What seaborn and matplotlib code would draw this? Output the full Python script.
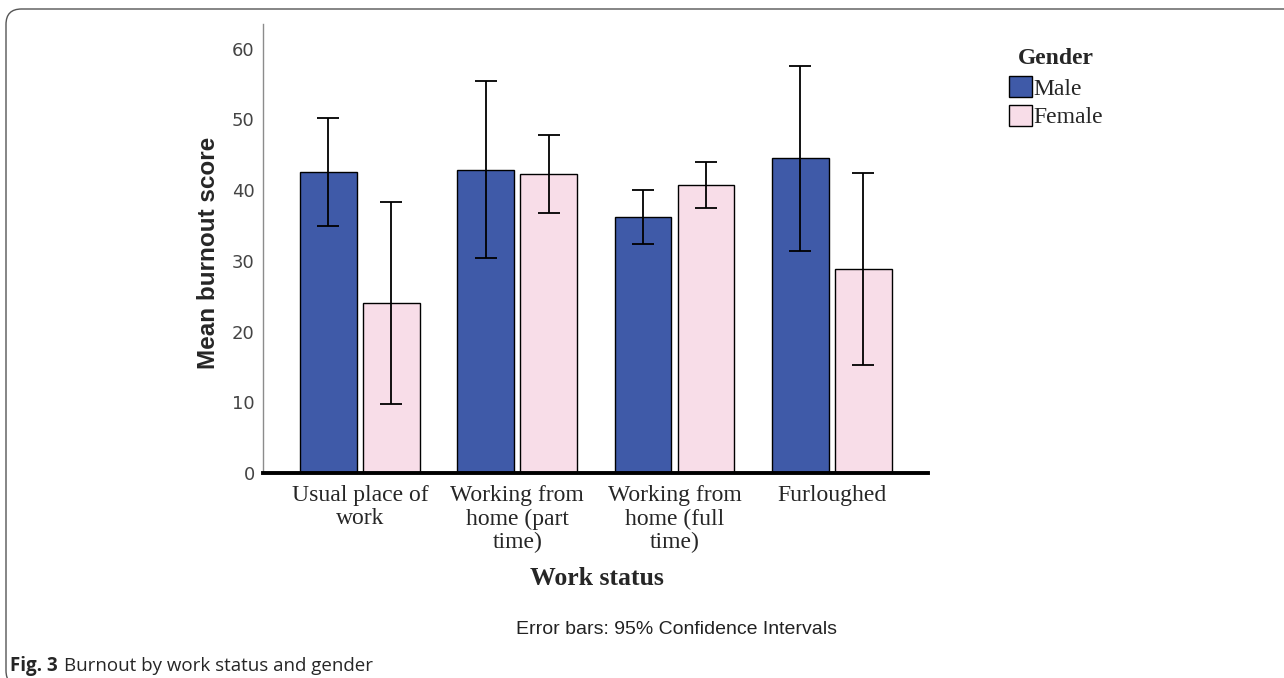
import matplotlib
matplotlib.use('Agg')
import matplotlib.pyplot as plt
from matplotlib.patches import Patch, FancyBboxPatch
import pandas as pd
import seaborn as sns

# values
statuses = ['Usual place of\nwork', 'Working from\nhome (part\ntime)',
            'Working from\nhome (full\ntime)', 'Furloughed']
genders = ['Male', 'Female']
male_mean = [42.6, 42.9, 36.2, 44.6]
male_lo = [34.9, 30.4, 32.4, 31.4]
male_hi = [50.2, 55.4, 40.0, 57.6]
female_mean = [24.0, 42.3, 40.7, 28.9]
female_lo = [9.8, 36.8, 37.5, 15.3]
female_hi = [38.3, 47.8, 44.0, 42.4]
yticks = [0, 10, 20, 30, 40, 50, 60]

colors = {'Male': '#3f5aa8', 'Female': '#f8dde8'}

df = pd.DataFrame({
    'status': statuses * 2,
    'gender': ['Male'] * 4 + ['Female'] * 4,
    'mean': male_mean + female_mean,
    'lo': male_lo + female_lo,
    'hi': male_hi + female_hi,
})

sns.set_style('white')
plt.rcParams['font.family'] = ['DejaVu Sans']

fig = plt.figure(figsize=(12.84, 6.78), dpi=100)
ax = fig.add_axes([0.2048, 0.3024, 0.5179, 0.6622])

sns.barplot(data=df, x='status', y='mean', hue='gender', hue_order=genders,
            order=statuses, palette=colors, saturation=1, width=0.8, gap=0.1,
            errorbar=None, edgecolor='black', linewidth=1.0,
            legend=False, ax=ax)

# confidence intervals at the bar centres
bars = ax.patches
for j, g in enumerate(genders):
    sub = df[df['gender'] == g].reset_index(drop=True)
    for i in range(len(statuses)):
        p = bars[j * len(statuses) + i]
        xc = p.get_x() + p.get_width() / 2
        m = sub.loc[i, 'mean']
        ax.errorbar(xc, m, yerr=[[m - sub.loc[i, 'lo']], [sub.loc[i, 'hi'] - m]],
                    fmt='none', ecolor='black', elinewidth=1.3,
                    capsize=8, capthick=1.3)

ax.set_xlim(-0.616, 3.61)
ax.set_ylim(0, 63.5)
ax.set_yticks(yticks)
ax.set_yticklabels([str(v) for v in yticks], color='#444444', fontsize=13)
ax.tick_params(axis='y', length=0, pad=6)
ax.tick_params(axis='x', length=0, pad=9)
for lab in ax.get_xticklabels():
    lab.set_fontfamily('Liberation Serif')
    lab.set_fontsize(17)
    lab.set_linespacing(1.12)

for s in ['top', 'right']:
    ax.spines[s].set_visible(False)
ax.spines['left'].set_color('#8c8c8c')
ax.spines['left'].set_linewidth(1.0)
ax.spines['bottom'].set_color('black')
ax.spines['bottom'].set_linewidth(2.8)

ax.set_ylabel('Mean burnout score', fontsize=17.5, fontweight='bold',
              fontfamily='Liberation Sans')
ax.yaxis.set_label_coords(-0.065, 0.49)
ax.set_xlabel('Work status', fontsize=18.5, fontweight='bold',
              fontfamily='Liberation Serif')
ax.xaxis.set_label_coords(0.502, -0.21)

handles = [Patch(facecolor=colors[g], edgecolor='black', linewidth=1.0) for g in genders]
leg = fig.legend(handles, genders, title='Gender', loc='upper left',
                 bbox_to_anchor=(0.7695, 0.96), frameon=False,
                 prop={'family': 'Liberation Serif', 'size': 17},
                 handlelength=0.95, handleheight=1.0, handletextpad=0.05,
                 labelspacing=0.2)
leg.get_title().set_fontfamily('Liberation Serif')
leg.get_title().set_fontweight('bold')
leg.get_title().set_fontsize(17)
leg._legend_box.sep = 5

fig.text(0.527, 0.071, 'Error bars: 95% Confidence Intervals', ha='center',
         va='center', fontsize=14, fontfamily='Liberation Sans', color='#222222')

fig.text(0.008, 0.011, 'Fig. 3', fontsize=13.5, fontweight='bold',
         fontfamily='Open Sans', va='baseline')
fig.text(0.050, 0.011, 'Burnout by work status and gender', fontsize=13.5,
         fontfamily='Open Sans', va='baseline')

# rounded frame around the figure (open on the right and bottom)
frame = FancyBboxPatch((6 / 1284, -8 / 678), 1.05, (678 - 8 + 8) / 678 - 1 / 678,
                       boxstyle='round,pad=0,rounding_size=0.012',
                       transform=fig.transFigure, facecolor='none',
                       edgecolor='#555555', linewidth=1.0, mutation_aspect=1284 / 678)
fig.patches.append(frame)

fig.savefig('out.png', dpi=100)
